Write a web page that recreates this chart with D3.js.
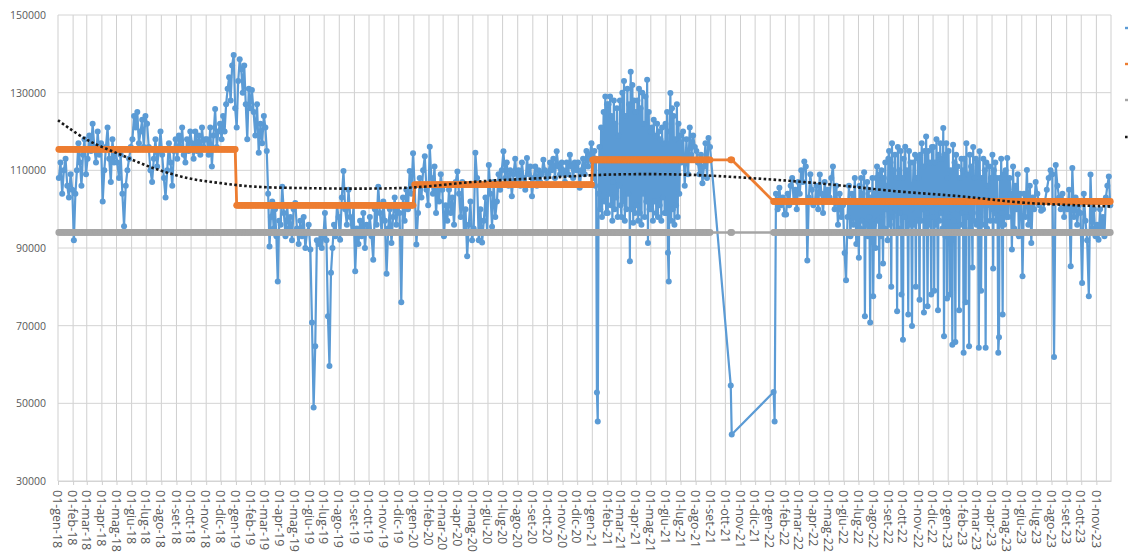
<!DOCTYPE html>
<html><head><meta charset="utf-8">
<script src="https://cdn.jsdelivr.net/npm/d3@7"></script>
<style>body{margin:0;background:#fff}svg{display:block}</style>
</head><body>
<svg id="chart" width="1128" height="558"></svg>
<script>
// ---------- data (values in thousands, UNIT = 1000) ----------
const UNIT = 1000;
const monthNames = ["gen","feb","mar","apr","mag","giu","lug","ago","set","ott","nov","dic"];
const yTicks = [30000, 50000, 70000, 90000, 110000, 130000, 150000];

// daily series, sampled within each month (one inner list per month)
const blue2018 = [
 [108,112,104,110,113,106,103,109,105],
 [92,104,110,117,112,106,114,118,109],
 [113,119,115,122,116,112,120,114,117],
 [102,110,116,121,113,107,118,112,115],
 [112,108,114,104,95.6,106,110,113,116],
 [118,124,121,125,117,120,123,116,124],
 [122,116,110,107,113,118,111,115,120],
 [114,108,103,110,117,112,106,115,118],
 [113,119,116,121,114,112,118,115,120],
 [117,113,120,115,119,114,121,116,118],
 [118,114,121,111,119,125.8,116,120,122],
 [118,124,120,127,131,134,128,137,139.7,126]
];
const blue2019 = [
 [121,133,138.6,136,130,137,127,118,131,126],
 [130.7,125,119,127,114.5,122,117,124],
 [121,115,104,90.4,98,102,95,100,93,81.4,97],
 [96,105.8,99,93,101,95,98,92,100],
 [101.6,95,91,97,93,98,90,94,96],
 [89.6,70.8,48.9,64.7,92,91,94,90,93],
 [99,92,72.4,59.6,83.6,90,96,93,101,98],
 [92.1,103,109.8,100,96,105,98,94,101],
 [84,95,91,97,93,99,90,96,94],
 [98,93,87,100,96,105.8,99,94,102],
 [97,83.4,95,100,91.3,98,103,96,101],
 [99,76,103,97,105,100,109.8,104,114.4]
];
const blue2020 = [
 [106,90.9,99,108,103,110,113.6,105,101],
 [116.1,108,104,111,99,106,102,109,105],
 [93,101,97,105,99,103,96,107,109.7],
 [104,98,107,94,100,87.9,96,102,92],
 [95,114.5,108,92,100,91.4,97,103,94],
 [111.4,104,95.5,107,98,102,109,105,110],
 [114.9,108,112,106,110,103.3,109,113,107],
 [110,106,112,108,105,113.2,109,111,103.3],
 [108,111,106,110,107,109,112.7,110,108],
 [109,112,110,113,108,114.9,111,109,112],
 [110,107,112,109,114,111,108,112,110],
 [112,105.5,110,113,109,115,111,114,117]
];
const blue2021 = [
 [112,108,115,106,113,52.8,45.3,104,116,100,121,98,110,125,102,129,99,127],
 [99,127,104,129,101,124,97,107,128,100,122,103,126,98,119,106,128,101],
 [98,130,102,133,97,124,100,131,104,127,86.6,135.4,100,132,96.5,128,99,125],
 [101,128,97,131,99,126,96,130,104,122,98,129,102,133.3,91.3,125,100,120],
 [100,121,97,123,102,119,99,122,98,120,101,118,97,121,103,117,99,122],
 [99,125,88.8,81.4,120,129.9,97,126,100,124,96,118,101,127,98,122,104,119],
 [112,120,106,118,109,121,114,119,116],
 [115,112,109,114,106.7,111,117,108,118.3,116],
 [],[],[],[]
];
const blue2022 = [
 [104,100,105.5,101,103,98.6],
 [98.6,104,101,106,108,102,105,100,107],
 [104,110,107,112.3,111,86.8,103,109,105,101],
 [102,106,100,108.9,104,99,107,103,105],
 [103,108,111,100,106,96,104,98,101],
 [88.7,81.7,98,106,93,104,96,108,91,102],
 [87.5,106,95,108,97,104,94,109.5,72.4,101,96,107,93,105,98,70.8,103,95,108,77.6],
 [96,104,90,108,111,97,107,82.7,109,93,110,98,86,108,95,112,100,106,92,113],
 [115,96,112,80,117,98,110,94,114,100,108,73.7,116,95,110,99,115,78,108,66.4],
 [113,98,116.1,94,110,102,72.9,115,96,112,100,69.9,104,112,96,114,80,108,97,113],
 [108,76.7,114,97,117,100,111,73.4,115,94,118.7,99,75,115,96,112,101,78,116,98],
 [116,79,112,96,118,100,74,114,97,117,99,113,95,120.9,67.3,114,93,117,77,108]
];
const blue2023 = [
 [115,98,78,110,100,65.1,116.6,97,112,65.8,114,94,111,100,74,108,96,113,99,110],
 [63,113,98,76,117,98,109,100,64.7,114,95,111,99,85,116,97,108,102,113,96],
 [112,99,64.3,114.9,98,79,108,96,113,101,110,64.3,112,95,106,101,111,97,108,100],
 [114,84.7,110,99,112,97,108,100,63,67,108,96,113,99,72.9,109,96,104,110,98],
 [113.2,98,108,104,89.6,111,95,106,100,109,93,104,102],
 [82.7,104,98,110.1,96,106,91.3,103,100,107],
 [104,101,99.6,100,102,105,108,110],
 [109,61.9,111.4,106,103,100,104,98,102],
 [100,105,85.3,110.6,98,103,96,101,99],
 [81,104,97,92,77.6,108.9,95,100,93],
 [96,92.1,100,94,98,93,103,106,108.4,101]
];
const years = [2018, 2019, 2020, 2021, 2022, 2023];
const blueByYear = [blue2018, blue2019, blue2020, blue2021, blue2022, blue2023];
// months where data begin after the 1st
const partialMonths = ["2022-01"];
const partialFirstDay = [11];
// isolated readings inside the late-2021 gap
const gapDates = ["2021-10-12", "2021-10-14", "2022-01-08", "2022-01-10"];
const gapValues = [54.6, 42.0, 52.9, 45.3];

// yearly mean (orange) and reference level (grey)
const meanYears = [2018, 2019, 2020, 2021, 2022, 2023];
const meanValues = [115.4, 101.0, 106.3, 112.7, 102.0, 102.0];
const referenceLevel = 94.0;

// polynomial trend (dotted)
const trendDates = ["2018-01-01","2018-03-01","2018-05-10","2018-07-15","2018-09-24","2018-12-01",
 "2019-02-08","2019-06-01","2019-10-01","2020-01-01","2020-05-10","2020-09-18","2021-02-03",
 "2021-07-08","2021-11-22","2022-04-07","2022-09-18","2023-01-28","2023-06-12","2023-12-01"];
const trendValues = [122.9,117.9,114.0,110.6,108.0,106.7,105.8,105.4,105.3,105.6,107.1,108.0,108.9,
 108.9,108.0,106.7,104.6,103.3,101.6,100.7];

const colors = {blue:"#5B9BD5", orange:"#ED7D31", gray:"#A5A5A5", trend:"#1a1a1a"};

// ---------- build records ----------
const parseDay = d3.utcParse("%Y-%m-%d");
const blue = [];
years.forEach((yr, yi) => {
  blueByYear[yi].forEach((vals, m) => {
    if (!vals.length) return;
    const key = yr + "-" + String(m + 1).padStart(2, "0");
    const pi = partialMonths.indexOf(key);
    const first = pi >= 0 ? partialFirstDay[pi] : 1;
    const s = Date.UTC(yr, m, first), e = Date.UTC(yr, m + 1, 1);
    const step = (e - s) / vals.length;
    vals.forEach((v, i) => blue.push({date: new Date(s + (i + 0.5) * step), value: v * UNIT}));
  });
});
gapDates.forEach((d, i) => blue.push({date: parseDay(d), value: gapValues[i] * UNIT}));
blue.sort((a, b) => a.date - b.date);
const orange = blue.map(d => ({date: d.date, value: meanValues[meanYears.indexOf(d.date.getUTCFullYear())] * UNIT}));
const gray = blue.map(d => ({date: d.date, value: referenceLevel * UNIT}));
const trend = trendDates.map((d, i) => ({date: parseDay(d), value: trendValues[i] * UNIT}));

// ---------- scales ----------
const svg = d3.select("#chart");
svg.append("rect").attr("width", 1128).attr("height", 558).attr("fill", "#fff");
const x = d3.scaleUtc().domain([new Date(Date.UTC(2018,0,1)), new Date(Date.UTC(2023,11,1))]).range([58, 1111]);
const y = d3.scaleLinear().domain([30000, 150000]).range([481, 15]);

const allMonths = d3.utcMonth.range(new Date(Date.UTC(2018,0,1)), new Date(Date.UTC(2023,11,2)));
const labelMonths = allMonths.filter(d => d < new Date(Date.UTC(2023,11,1)));

// gridlines
const grid = svg.append("g");
grid.selectAll("line.v").data(allMonths).join("line").attr("class","v")
  .attr("x1", d => x(d)).attr("x2", d => x(d)).attr("y1", y(150000)).attr("y2", y(30000))
  .attr("stroke", "#cfcfcf").attr("stroke-width", 1);
grid.selectAll("line.h").data(yTicks).join("line").attr("class","h")
  .attr("x1", x.range()[0]).attr("x2", x.range()[1]).attr("y1", d => y(d)).attr("y2", d => y(d))
  .attr("stroke", "#d4d4d4").attr("stroke-width", 1);

// x axis
const fmt = d => "01-" + monthNames[d.getUTCMonth()] + "-" + String(d.getUTCFullYear()).slice(2);
const xAxis = svg.append("g").attr("transform", `translate(0,${y(30000)})`)
  .call(d3.axisBottom(x).tickValues(labelMonths).tickFormat(fmt).tickSize(4).tickSizeOuter(0));
xAxis.select(".domain").attr("stroke", "#d4d4d4");
xAxis.selectAll(".tick line").attr("stroke", "#cfcfcf");
xAxis.selectAll(".tick text")
  .attr("transform", "rotate(90)").attr("x", 9).attr("y", 1).attr("dy", "0.35em")
  .attr("text-anchor", "start").attr("fill", "#595959")
  .style("font-family", "'Open Sans', sans-serif").style("font-size", "12.5px");

// y axis labels
const yAxis = svg.append("g").attr("transform", "translate(46,0)")
  .call(d3.axisLeft(y).tickValues(yTicks).tickFormat(d3.format("d")).tickSize(0).tickPadding(0));
yAxis.select(".domain").remove();
yAxis.selectAll(".tick text").attr("fill", "#595959")
  .style("font-family", "'Open Sans', sans-serif").style("font-size", "10.5px");

// series
const line = d3.line().x(d => x(d.date)).y(d => y(d.value));
function drawSeries(data, color, width, r) {
  const g = svg.append("g");
  g.append("path").datum(data).attr("d", line).attr("fill", "none")
    .attr("stroke", color).attr("stroke-width", width).attr("stroke-linejoin", "round");
  g.selectAll("circle").data(data).join("circle")
    .attr("cx", d => x(d.date)).attr("cy", d => y(d.value)).attr("r", r).attr("fill", color);
}
drawSeries(blue, colors.blue, 2.2, 3);
drawSeries(orange, colors.orange, 2.8, 3.4);
drawSeries(gray, colors.gray, 2.6, 3.4);

svg.append("path").datum(trend)
  .attr("d", d3.line().x(d => x(d.date)).y(d => y(d.value)).curve(d3.curveCatmullRom))
  .attr("fill", "none").attr("stroke", colors.trend).attr("stroke-width", 2.6)
  .attr("stroke-dasharray", "2.6 2.4");

// legend (cut off at the right edge, only the symbols show)
const legendKeys = ["blue", "orange", "gray", "trend"];
const legendY = [28, 64, 100, 137];
const lg = svg.append("g");
legendKeys.forEach((k, i) => {
  const l = lg.append("line").attr("x1", 1125).attr("x2", 1150).attr("y1", legendY[i]).attr("y2", legendY[i])
    .attr("stroke", colors[k]).attr("stroke-width", k === "trend" ? 2.6 : 2.4);
  if (k === "trend") l.attr("stroke-dasharray", "2.6 2.4");
});
</script>
</body></html>
